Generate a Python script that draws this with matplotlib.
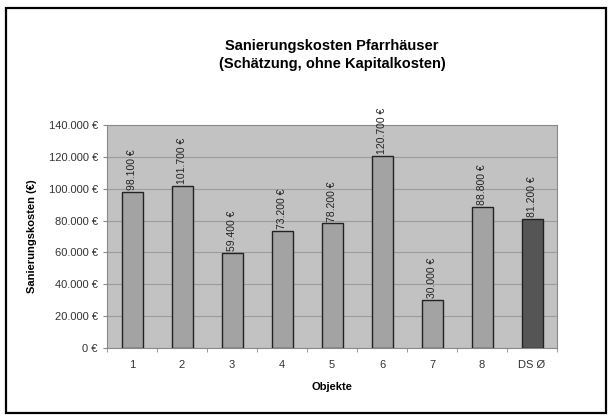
import numpy as np
import matplotlib.pyplot as plt
from matplotlib.patches import Rectangle
from matplotlib.ticker import FuncFormatter, FixedLocator

plt.rcParams['font.family'] = ['Liberation Sans', 'DejaVu Sans']

# Daten
objekte = ['1', '2', '3', '4', '5', '6', '7', '8', 'DS Ø']
kosten = [98100, 101700, 59400, 73200, 78200, 120700, 30000, 88800, 81200]
farben = ['#a3a3a3'] * 8 + ['#555555']

def euro(v):
    return '{:,.0f} €'.format(v).replace(',', '.')

fig = plt.figure(figsize=(6.11, 4.18), dpi=100)
W, H = 611, 418
ax = fig.add_axes([107 / W, 1 - 348 / H, 450 / W, 223 / H])

x = np.arange(len(objekte))
ax.bar(x, kosten, width=0.42, color=farben, edgecolor='#222222', linewidth=1.0, zorder=3)

for xi, v in zip(x, kosten):
    ax.text(xi, v + 1200, euro(v), rotation=90, ha='center', va='bottom',
            fontsize=7.5, color='#222222', clip_on=False)

ax.set_xlim(-0.5, len(objekte) - 0.5)
ax.set_ylim(0, 140000)
ax.set_yticks(np.arange(0, 140001, 20000))
ax.yaxis.set_major_formatter(FuncFormatter(lambda v, p: euro(v)))
ax.set_xticks(x)
ax.set_xticklabels(objekte)
ax.xaxis.set_minor_locator(FixedLocator(np.arange(-0.5, len(objekte), 1.0)))
ax.tick_params(axis='x', which='major', length=0, pad=9, labelsize=8, colors='#333333')
ax.tick_params(axis='x', which='minor', length=3, color='#888888')
ax.tick_params(axis='y', length=3, color='#888888', labelsize=8, labelcolor='#333333')

ax.set_facecolor('#c2c2c2')
ax.grid(axis='y', color='#9c9c9c', linewidth=0.8, zorder=0)
ax.set_axisbelow(True)
for s in ax.spines.values():
    s.set_color('#8a8a8a')
    s.set_linewidth(0.8)

ax.set_ylabel('Sanierungskosten (€)', fontsize=8, fontweight='bold', labelpad=8)
ax.set_xlabel('Objekte', fontsize=8, fontweight='bold', labelpad=8)

fig.text(332 / W, 1 - 55 / H, 'Sanierungskosten Pfarrhäuser\n(Schätzung, ohne Kapitalkosten)',
         ha='center', va='center', fontsize=10.5, fontweight='bold', linespacing=1.35)

fig.patches.append(Rectangle((6 / W, 1 - 413 / H), 600 / W, 405 / H, transform=fig.transFigure,
                             fill=False, edgecolor='black', linewidth=1.6))

fig.savefig('out.png', dpi=100)
